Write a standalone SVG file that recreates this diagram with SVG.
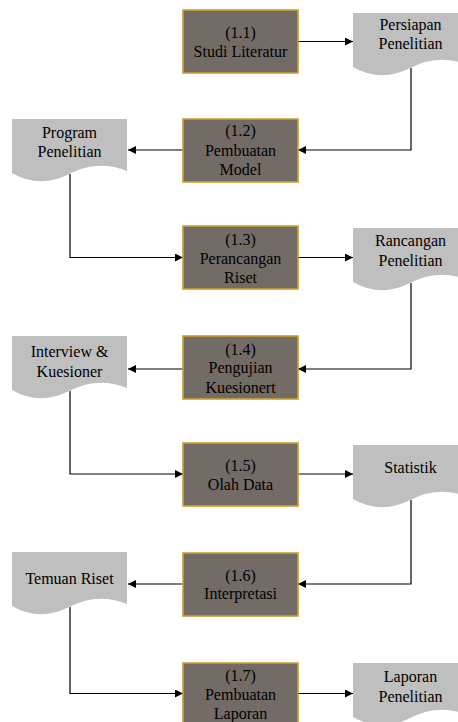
<svg xmlns="http://www.w3.org/2000/svg" xmlns:xlink="http://www.w3.org/1999/xlink" width="458" height="722" viewBox="0 0 458 722">
<style>
.proc{fill:#736b65;stroke:#c9a227;stroke-width:1.6}
.doc{fill:#bfbfbf}
text{font-family:"Liberation Serif","Times New Roman",serif;font-size:16px;fill:#000;text-anchor:middle}
.c{fill:none;stroke:#000;stroke-width:1.2}
</style>
<defs>
<path id="docshape" d="M0,0 H115 V52 Q86,40 57,55 Q28,70 0,54 Z"/>
<marker id="ah" viewBox="0 0 10 10" refX="10" refY="5" markerWidth="11" markerHeight="8" markerUnits="userSpaceOnUse" orient="auto">
<path d="M0,0 L10,5 L0,10 Z" fill="#000"/>
</marker>
</defs>
<rect width="458" height="722" fill="#fff"/>
<g id="connectors">
<path class="c" marker-end="url(#ah)" d="M298,41.5 H353"/>
<path class="c" marker-end="url(#ah)" d="M411,68 V150 H298"/>
<path class="c" marker-end="url(#ah)" d="M183,150 H128"/>
<path class="c" marker-end="url(#ah)" d="M70,174 V257.5 H183"/>
<path class="c" marker-end="url(#ah)" d="M298,257.5 H353"/>
<path class="c" marker-end="url(#ah)" d="M411,283 V369 H298"/>
<path class="c" marker-end="url(#ah)" d="M183,369 H128"/>
<path class="c" marker-end="url(#ah)" d="M70,391 V474 H183"/>
<path class="c" marker-end="url(#ah)" d="M298,474 H353"/>
<path class="c" marker-end="url(#ah)" d="M411,500 V584 H298"/>
<path class="c" marker-end="url(#ah)" d="M183,584 H128"/>
<path class="c" marker-end="url(#ah)" d="M70,607 V693.5 H183"/>
<path class="c" marker-end="url(#ah)" d="M298,693.5 H353"/>
</g>
<g id="p11"><rect class="proc" x="183" y="10" width="115" height="63"/><text x="240.5" y="38">(1.1)</text><text x="240.5" y="57">Studi Literatur</text></g>
<g id="d11"><use xlink:href="#docshape" class="doc" x="353" y="13"/><text x="410.5" y="30">Persiapan</text><text x="410.5" y="49">Penelitian</text></g>
<g id="p12"><rect class="proc" x="183" y="119" width="115" height="63"/><text x="240.5" y="136">(1.2)</text><text x="240.5" y="155.5">Pembuatan</text><text x="240.5" y="174.5">Model</text></g>
<g id="d12"><use xlink:href="#docshape" class="doc" x="12" y="119"/><text x="69.5" y="138">Program</text><text x="69.5" y="157">Penelitian</text></g>
<g id="p13"><rect class="proc" x="183" y="226" width="115" height="63"/><text x="240.5" y="244.5">(1.3)</text><text x="240.5" y="263.5">Perancangan</text><text x="240.5" y="282.5">Riset</text></g>
<g id="d13"><use xlink:href="#docshape" class="doc" x="353" y="228"/><text x="410.5" y="246">Rancangan</text><text x="410.5" y="266">Penelitian</text></g>
<g id="p14"><rect class="proc" x="183" y="336" width="115" height="63"/><text x="240.5" y="354.5">(1.4)</text><text x="240.5" y="373">Pengujian</text><text x="240.5" y="393">Kuesionert</text></g>
<g id="d14"><use xlink:href="#docshape" class="doc" x="12" y="336"/><text x="69.5" y="357">Interview &amp;</text><text x="69.5" y="377">Kuesioner</text></g>
<g id="p15"><rect class="proc" x="183" y="443" width="115" height="63"/><text x="240.5" y="470.5">(1.5)</text><text x="240.5" y="490">Olah Data</text></g>
<g id="d15"><use xlink:href="#docshape" class="doc" x="353" y="445"/><text x="410.5" y="473">Statistik</text></g>
<g id="p16"><rect class="proc" x="183" y="553" width="115" height="63"/><text x="240.5" y="580.5">(1.6)</text><text x="240.5" y="598.5">Interpretasi</text></g>
<g id="d16"><use xlink:href="#docshape" class="doc" x="12" y="552"/><text x="69.5" y="584">Temuan Riset</text></g>
<g id="p17"><rect class="proc" x="183" y="663" width="115" height="63"/><text x="240.5" y="681">(1.7)</text><text x="240.5" y="700">Pembuatan</text><text x="240.5" y="718.5">Laporan</text></g>
<g id="d17"><use xlink:href="#docshape" class="doc" x="353" y="663"/><text x="410.5" y="682">Laporan</text><text x="410.5" y="702">Penelitian</text></g>
</svg>
